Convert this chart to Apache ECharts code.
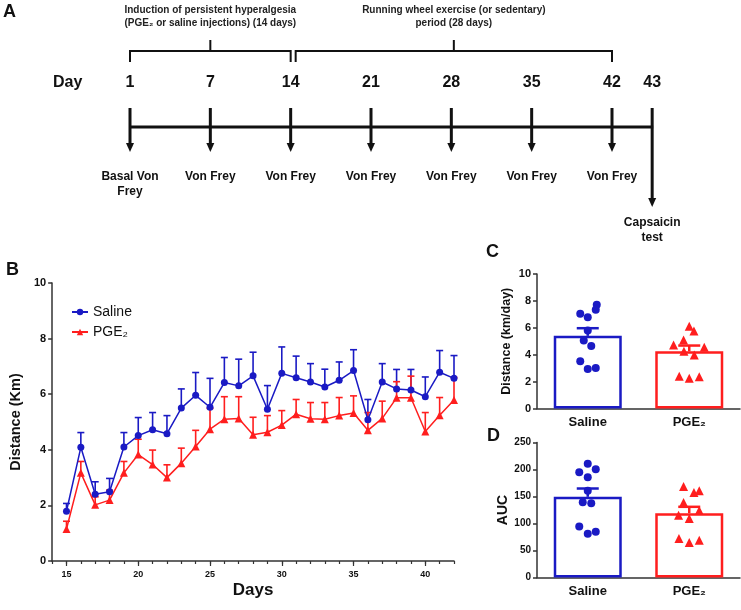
<!DOCTYPE html>
<html><head><meta charset="utf-8">
<script src="https://cdn.jsdelivr.net/npm/echarts@6/dist/echarts.min.js"></script>
<style>html,body{margin:0;padding:0;background:#fff}#c{width:741px;height:610px}</style>
</head><body><div id="c"></div>
<script>
// ---------- Panel A: timeline ----------
const tlDays = [1, 7, 14, 21, 28, 35, 42, 43];
const tlSlots = [0, 1, 2, 3, 4, 5, 6, 6.5];
const tlEvents = ['Basal Von\nFrey', 'Von Frey', 'Von Frey', 'Von Frey', 'Von Frey', 'Von Frey', 'Von Frey', 'Capsaicin\ntest'];
const periodFrom = [0, 2];
const periodTo = [2, 6];
const periodText = ['Induction of persistent hyperalgesia\n(PGE\u2082 or saline injections) (14 days)',
                    'Running wheel exercise (or sedentary)\nperiod (28 days)'];

// ---------- Panel B: daily running distance ----------
const days = [15,16,17,18,19,20,21,22,23,24,25,26,27,28,29,30,31,32,33,34,35,36,37,38,39,40,41,42];
const dayCats = ['14','15','16','17','18','19','20','21','22','23','24','25','26','27','28','29','30','31','32','33','34','35','36','37','38','39','40','41','42'];
const salineMean = [1.79,4.09,2.40,2.49,4.10,4.51,4.72,4.58,5.50,5.96,5.53,6.42,6.30,6.66,5.46,6.75,6.59,6.44,6.26,6.50,6.85,5.08,6.44,6.19,6.15,5.91,6.79,6.57];
const salineSem  = [0.28,0.53,0.45,0.48,0.52,0.65,0.62,0.65,0.69,0.82,1.04,0.90,0.96,0.85,0.85,0.95,0.78,0.66,0.64,0.66,0.75,0.73,0.66,0.70,0.74,0.71,0.78,0.82];
const pgeMean    = [1.15,3.17,2.02,2.19,3.17,3.83,3.47,3.00,3.52,4.12,4.74,5.10,5.13,4.54,4.63,4.89,5.28,5.12,5.10,5.23,5.32,4.70,5.13,5.87,5.87,4.66,5.24,5.79];
const pgeSem     = [0.28,0.41,0.29,0.36,0.41,0.55,0.52,0.46,0.54,0.58,0.75,0.81,0.78,0.63,0.60,0.52,0.53,0.58,0.60,0.65,0.62,0.64,0.62,0.58,0.78,0.68,0.64,0.81];

// ---------- Panels C & D ----------
const groups = ['Saline', 'PGE\u2082'];
const cMean = [5.40, 4.25];
const cSem = [0.57, 0.43];
const cSaline = [7.71,7.04,7.34,6.79,5.80,5.05,4.65,3.51,2.94,3.01];
const cPge = [6.12,5.77,5.10,4.73,4.55,4.25,3.98,2.39,2.24,2.36];
const dMean = [149.4, 119.1];
const dSem = [15.4, 11.8];
const dSaline = [210.5,195,200.6,185.8,160.5,139.5,137.7,94.4,80.9,84.6];
const dPge = [168.5,157.4,160.5,138.9,124,115.4,109.3,72.2,64.8,69.1];
// horizontal jitter of dots (layout, px)
const jitCSaline = [9,-7.5,8,0,0,-4,3.5,-7.5,0,8];
const jitCPge = [0,4.7,-5.7,-15.7,15,-5.3,5,-10,0,10];
const jitDSaline = [0,-8.5,8,0,0,-5,3.5,-8.5,0,8];
const jitDPge = [-5.7,4.7,10,-5.7,10,-10.7,0,-10.3,0,10];

const FONT = '"Liberation Sans", Arial, sans-serif';
const BLUE = '#1a1ac4', RED = '#ff1e1e', INK = '#111';

function errRender(capHalf, lw, color) {
  return function (params, api) {
    const p0 = api.coord([api.value(0), api.value(1)]);
    const p1 = api.coord([api.value(0), api.value(2)]);
    return {type: 'group', children: [
      {type: 'line', shape: {x1: p0[0], y1: p0[1], x2: p1[0], y2: p1[1]}, style: {stroke: color, lineWidth: lw}},
      {type: 'line', shape: {x1: p1[0] - capHalf, y1: p1[1], x2: p1[0] + capHalf, y2: p1[1]}, style: {stroke: color, lineWidth: lw}}
    ]};
  };
}

const catAxisStyle = {
  axisLine: {lineStyle: {color: '#333', width: 1.5}},
  axisTick: {alignWithLabel: true, length: 4, lineStyle: {color: '#333', width: 1.5}},
  axisLabel: {fontSize: 13, fontWeight: 'bold', color: INK, margin: 7, fontFamily: FONT}
};
function valAxis(grid, min, max, interval, name, nameSize, nameGap, labelSize) {
  return {
    gridIndex: grid, type: 'value', min, max, interval,
    splitLine: {show: false},
    axisLine: {show: true, lineStyle: {color: '#333', width: 1.5}},
    axisTick: {show: true, length: 4, lineStyle: {color: '#333', width: 1.5}},
    axisLabel: {fontSize: labelSize, fontWeight: 'bold', color: INK, margin: 6, fontFamily: FONT},
    name, nameLocation: 'middle', nameGap,
    nameTextStyle: {fontSize: nameSize, fontWeight: 'bold', color: INK, fontFamily: FONT}
  };
}

const option = {
  animation: false,
  textStyle: {fontFamily: FONT},
  grid: [
    {left: 130, width: 482, top: 0, height: 250},
    {left: 38, width: 416, top: 283, height: 278},
    {left: 537, width: 203, top: 274, height: 134.5},
    {left: 537, width: 203, top: 442.5, height: 135}
  ],
  legend: {
    left: 66, top: 300, orient: 'vertical', itemGap: 6, itemWidth: 16, itemHeight: 8,
    data: ['Saline', 'PGE\u2082'],
    textStyle: {fontSize: 14, color: INK, fontFamily: FONT}
  },
  xAxis: [
    {gridIndex: 0, type: 'value', min: 0, max: 6, show: false},
    {gridIndex: 1, type: 'category', data: dayCats, boundaryGap: false,
     axisLine: {lineStyle: {color: '#333', width: 1.5}},
     axisTick: {interval: 0, length: 3, lineStyle: {color: '#333', width: 1.2}},
     axisLabel: {interval: (i, v) => (+v) % 5 === 0, fontSize: 9, fontWeight: 'bold', color: INK, margin: 9, fontFamily: FONT},
     name: 'Days', nameLocation: 'middle', nameGap: 21,
     nameTextStyle: {fontSize: 17, fontWeight: 'bold', color: INK, fontFamily: FONT}},
    {gridIndex: 1, type: 'category', data: dayCats, boundaryGap: false, position: 'bottom',
     axisLine: {show: false},
     axisTick: {interval: (i, v) => (+v) % 5 === 0, length: 5, lineStyle: {color: '#333', width: 1.2}},
     axisLabel: {show: false}},
    Object.assign({gridIndex: 2, type: 'category', data: groups}, catAxisStyle),
    Object.assign({gridIndex: 3, type: 'category', data: groups}, catAxisStyle)
  ],
  yAxis: [
    {gridIndex: 0, type: 'value', min: 0, max: 1, show: false},
    valAxis(1, 0, 10, 2, 'Distance (Km)', 14.5, 24, 11),
    valAxis(2, 0, 10, 2, 'Distance (km/day)', 12.5, 24, 11),
    valAxis(3, 0, 250, 50, 'AUC', 14, 27, 10)
  ],
  graphic: [
    {type: 'text', left: 3, top: 3, style: {text: 'A', font: 'bold 18px ' + FONT, fill: INK}},
    {type: 'text', left: 6, top: 261, style: {text: 'B', font: 'bold 18px ' + FONT, fill: INK}},
    {type: 'text', left: 486, top: 243, style: {text: 'C', font: 'bold 18px ' + FONT, fill: INK}},
    {type: 'text', left: 487, top: 427, style: {text: 'D', font: 'bold 18px ' + FONT, fill: INK}},
    {type: 'text', left: 53, top: 75, style: {text: 'Day', font: 'bold 16px ' + FONT, fill: INK}}
  ],
  series: [
    // timeline baseline
    {type: 'custom', xAxisIndex: 0, yAxisIndex: 0, silent: true,
     data: [[tlSlots[0], tlSlots[tlSlots.length - 1]]],
     encode: {x: [0, 1]},
     renderItem: function (params, api) {
       const a = api.coord([api.value(0), 0])[0];
       const b = api.coord([api.value(1), 0])[0];
       return {type: 'line', shape: {x1: a - 1, y1: 127, x2: b + 1, y2: 127}, style: {stroke: INK, lineWidth: 3}};
     }},
    // arrows, day numbers, events
    {type: 'custom', xAxisIndex: 0, yAxisIndex: 0, silent: true,
     data: tlSlots.map(s => [s, 0]),
     renderItem: function (params, api) {
       const i = params.dataIndex;
       const x = api.coord([api.value(0), 0])[0];
       const last = i === tlSlots.length - 1;
       const tip = last ? 207 : 152;
       return {type: 'group', children: [
         {type: 'text', style: {text: String(tlDays[i]), x: x, y: 83, align: 'center', verticalAlign: 'middle', font: 'bold 16px ' + FONT, fill: INK}},
         {type: 'line', shape: {x1: x, y1: 108, x2: x, y2: tip - 6}, style: {stroke: INK, lineWidth: 3}},
         {type: 'polygon', shape: {points: [[x - 4, tip - 9], [x + 4, tip - 9], [x, tip]]}, style: {fill: INK}},
         {type: 'text', style: {text: tlEvents[i], x: x, y: last ? 215 : 169, align: 'center', verticalAlign: 'top', lineHeight: 15, font: 'bold 12px ' + FONT, fill: INK}}
       ]};
     }},
    // brackets
    {type: 'custom', xAxisIndex: 0, yAxisIndex: 0, silent: true,
     data: periodFrom.map((f, i) => [f, periodTo[i]]),
     encode: {x: [0, 1]},
     renderItem: function (params, api) {
       const i = params.dataIndex;
       let a = api.coord([api.value(0), 0])[0];
       const b = api.coord([api.value(1), 0])[0];
       if (i > 0) a += 5;
       const m = (a + b) / 2;
       const st = {stroke: INK, lineWidth: 2};
       return {type: 'group', children: [
         {type: 'polyline', shape: {points: [[a, 62], [a, 51], [b, 51], [b, 62]]}, style: Object.assign({fill: null}, st)},
         {type: 'line', shape: {x1: m, y1: 51, x2: m, y2: 40}, style: st},
         {type: 'text', style: {text: periodText[i], x: m, y: 16.5, align: 'center', verticalAlign: 'middle', lineHeight: 13, font: 'bold 10px ' + FONT, fill: '#222'}}
       ]};
     }},
    // Panel B lines
    {name: 'Saline', type: 'line', xAxisIndex: 1, yAxisIndex: 1,
     data: days.map((d, i) => [dayCats.indexOf(String(d)), salineMean[i]]),
     symbol: 'circle', symbolSize: 7, color: BLUE, lineStyle: {width: 1.5, color: BLUE}, itemStyle: {color: BLUE}, z: 3},
    {name: 'PGE\u2082', type: 'line', xAxisIndex: 1, yAxisIndex: 1,
     data: days.map((d, i) => [dayCats.indexOf(String(d)), pgeMean[i]]),
     symbol: 'triangle', symbolSize: 8, color: RED, lineStyle: {width: 1.5, color: RED}, itemStyle: {color: RED}, z: 3},
    {type: 'custom', xAxisIndex: 1, yAxisIndex: 1, silent: true, z: 2,
     data: days.map((d, i) => [dayCats.indexOf(String(d)), salineMean[i], salineMean[i] + salineSem[i]]),
     encode: {x: 0, y: [1, 2]}, renderItem: errRender(3.5, 1.6, BLUE)},
    {type: 'custom', xAxisIndex: 1, yAxisIndex: 1, silent: true, z: 2,
     data: days.map((d, i) => [dayCats.indexOf(String(d)), pgeMean[i], pgeMean[i] + pgeSem[i]]),
     encode: {x: 0, y: [1, 2]}, renderItem: errRender(3.5, 1.6, RED)},
    // Panel C
    {type: 'bar', xAxisIndex: 3, yAxisIndex: 2, barWidth: 68, silent: true,
     data: [{value: cMean[0], itemStyle: {color: '#fff', borderColor: BLUE, borderWidth: 2.5}},
            {value: cMean[1], itemStyle: {color: '#fff', borderColor: RED, borderWidth: 2.5}}]},
    {type: 'custom', xAxisIndex: 3, yAxisIndex: 2, silent: true, z: 3,
     data: cMean.map((m, i) => [i, m, m + cSem[i], i]),
     encode: {x: 0, y: [1, 2]},
     renderItem: function (p, api) { return errRender(11, 2.5, api.value(3) === 0 ? BLUE : RED)(p, api); }},
    {type: 'scatter', xAxisIndex: 3, yAxisIndex: 2, symbol: 'circle', symbolSize: 8, itemStyle: {color: BLUE, opacity: 1}, z: 4,
     data: cSaline.map((v, i) => ({value: [0, v], symbolOffset: [jitCSaline[i], 0]}))},
    {type: 'scatter', xAxisIndex: 3, yAxisIndex: 2, symbol: 'triangle', symbolSize: 9, itemStyle: {color: RED, opacity: 1}, z: 4,
     data: cPge.map((v, i) => ({value: [1, v], symbolOffset: [jitCPge[i], 0]}))},
    // Panel D
    {type: 'bar', xAxisIndex: 4, yAxisIndex: 3, barWidth: 68, silent: true,
     data: [{value: dMean[0], itemStyle: {color: '#fff', borderColor: BLUE, borderWidth: 2.5}},
            {value: dMean[1], itemStyle: {color: '#fff', borderColor: RED, borderWidth: 2.5}}]},
    {type: 'custom', xAxisIndex: 4, yAxisIndex: 3, silent: true, z: 3,
     data: dMean.map((m, i) => [i, m, m + dSem[i], i]),
     encode: {x: 0, y: [1, 2]},
     renderItem: function (p, api) { return errRender(11, 2.5, api.value(3) === 0 ? BLUE : RED)(p, api); }},
    {type: 'scatter', xAxisIndex: 4, yAxisIndex: 3, symbol: 'circle', symbolSize: 8, itemStyle: {color: BLUE, opacity: 1}, z: 4,
     data: dSaline.map((v, i) => ({value: [0, v], symbolOffset: [jitDSaline[i], 0]}))},
    {type: 'scatter', xAxisIndex: 4, yAxisIndex: 3, symbol: 'triangle', symbolSize: 9, itemStyle: {color: RED, opacity: 1}, z: 4,
     data: dPge.map((v, i) => ({value: [1, v], symbolOffset: [jitDPge[i], 0]}))}
  ]
};
const chart = echarts.init(document.getElementById('c'), null, {renderer: 'canvas'});
chart.setOption(option);
</script></body></html>
